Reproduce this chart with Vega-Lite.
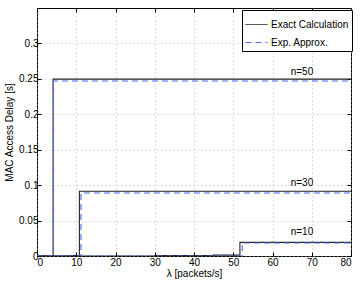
{
  "$schema": "https://vega.github.io/schema/vega-lite/v6.json",
  "width": 314,
  "height": 248,
  "autosize": {"type": "none"},
  "padding": {"left": 37, "top": 8, "right": 9, "bottom": 27},
  "background": "white",
  "config": {
    "font": "Liberation Sans",
    "view": {"stroke": "#000", "strokeWidth": 1},
    "axis": {
      "labelFont": "Liberation Sans",
      "titleFont": "Liberation Sans",
      "labelFontSize": 10,
      "titleFontSize": 10,
      "titleFontWeight": "normal",
      "labelColor": "#000",
      "titleColor": "#000",
      "domain": false,
      "tickColor": "#000",
      "tickSize": -4,
      "gridColor": "#aaa",
      "gridDash": [1, 3],
      "gridWidth": 0.8
    }
  },
  "datasets": {
    "curves": [
      {"lam": 0, "d": 0, "n": "50", "method": "Exact Calculation"},
      {"lam": 4.1, "d": 0.2496, "n": "50", "method": "Exact Calculation"},
      {"lam": 80, "d": 0.2496, "n": "50", "method": "Exact Calculation"},
      {"lam": 0, "d": 0, "n": "50", "method": "Exp. Approx."},
      {"lam": 4.2, "d": 0.247, "n": "50", "method": "Exp. Approx."},
      {"lam": 80, "d": 0.247, "n": "50", "method": "Exp. Approx."},
      {"lam": 0, "d": 0, "n": "30", "method": "Exact Calculation"},
      {"lam": 8, "d": 0.0008, "n": "30", "method": "Exact Calculation"},
      {"lam": 10.8, "d": 0.0914, "n": "30", "method": "Exact Calculation"},
      {"lam": 80, "d": 0.0914, "n": "30", "method": "Exact Calculation"},
      {"lam": 0, "d": 0, "n": "30", "method": "Exp. Approx."},
      {"lam": 11.2, "d": 0.089, "n": "30", "method": "Exp. Approx."},
      {"lam": 80, "d": 0.089, "n": "30", "method": "Exp. Approx."},
      {"lam": 0, "d": 0, "n": "10", "method": "Exact Calculation"},
      {"lam": 30, "d": 0.0006, "n": "10", "method": "Exact Calculation"},
      {"lam": 45, "d": 0.0012, "n": "10", "method": "Exact Calculation"},
      {"lam": 51.7, "d": 0.0193, "n": "10", "method": "Exact Calculation"},
      {"lam": 80, "d": 0.0193, "n": "10", "method": "Exact Calculation"},
      {"lam": 0, "d": 0, "n": "10", "method": "Exp. Approx."},
      {"lam": 52.3, "d": 0.0184, "n": "10", "method": "Exp. Approx."},
      {"lam": 80, "d": 0.0184, "n": "10", "method": "Exp. Approx."}
    ],
    "labels": [
      {"lam": 67.5, "d": 0.26, "text": "n=50"},
      {"lam": 67.5, "d": 0.103, "text": "n=30"},
      {"lam": 67.5, "d": 0.034, "text": "n=10"}
    ]
  },
  "layer": [
    {
      "data": {"name": "curves"},
      "mark": {"type": "line", "interpolate": "step-after", "strokeWidth": 1.1, "clip": true},
      "encoding": {
        "x": {
          "field": "lam", "type": "quantitative",
          "scale": {"domain": [0, 80], "nice": false, "zero": false},
          "axis": {"orient": "bottom", "values": [0,10,20,30,40,50,60,70,80], "title": "λ [packets/s]", "titlePadding": 1, "labelPadding": 5, "grid": true}
        },
        "y": {
          "field": "d", "type": "quantitative",
          "scale": {"domain": [0, 0.35], "nice": false},
          "axis": {"orient": "left", "values": [0,0.05,0.1,0.15,0.2,0.25,0.3], "format": "~g", "title": "MAC Access Delay [s]", "titlePadding": 4, "labelPadding": 3, "grid": true}
        },
        "detail": {"field": "n"},
        "color": {
          "field": "method", "type": "nominal",
          "scale": {"domain": ["Exact Calculation", "Exp. Approx."], "range": ["#222222", "#4a6af0"]},
          "legend": {
            "title": null,
            "orient": "none",
            "legendX": 205,
            "legendY": 2,
            "strokeColor": "#000",
            "fillColor": "white",
            "padding": 3,
            "cornerRadius": 0,
            "symbolType": "stroke",
            "symbolSize": 484,
            "symbolStrokeWidth": 1,
            "labelFontSize": 10,
            "labelFont": "Liberation Sans",
            "labelColor": "#000",
            "labelOffset": 3,
            "rowPadding": 1
          }
        },
        "strokeDash": {
          "field": "method", "type": "nominal",
          "scale": {"domain": ["Exact Calculation", "Exp. Approx."], "range": [[1, 0], [6, 4]]},
          "legend": null
        }
      }
    },
    {
      "data": {"name": "labels"},
      "mark": {"type": "text", "fontSize": 10, "font": "Liberation Sans", "color": "#000"},
      "encoding": {
        "x": {"field": "lam", "type": "quantitative", "axis": {"orient": "top", "values": [0,10,20,30,40,50,60,70,80], "labels": false, "title": null, "grid": false}},
        "y": {"field": "d", "type": "quantitative", "axis": {"orient": "right", "values": [0,0.05,0.1,0.15,0.2,0.25,0.3], "labels": false, "title": null, "grid": false}},
        "text": {"field": "text"}
      }
    }
  ],
  "resolve": {"axis": {"x": "independent", "y": "independent"}}
}
